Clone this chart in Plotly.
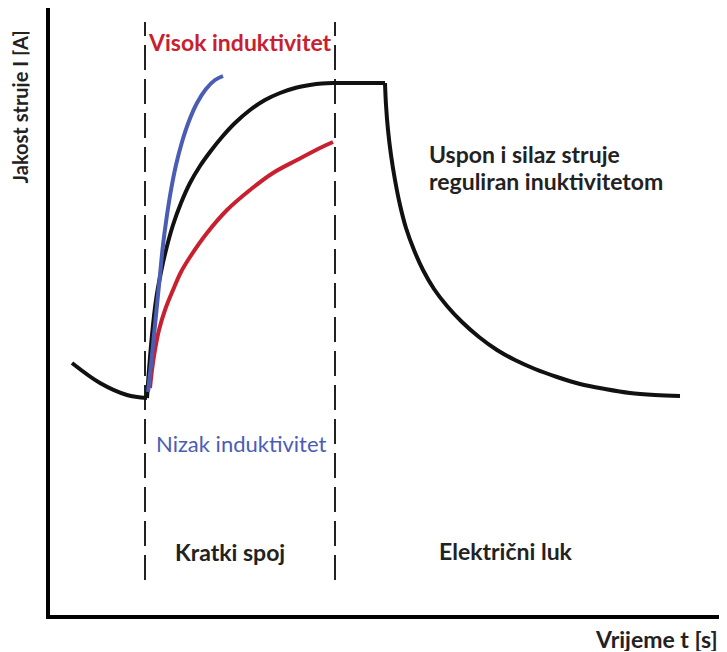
import plotly.graph_objects as go

# arbitrary units (t to the right, I upward)
t_before = [22, 50, 77, 97]
i_before = [252, 232, 220, 217]

t_rise = [97, 99, 102, 106, 111, 116, 123, 131, 140, 150, 160, 172, 185, 200, 215, 230, 245, 260, 272, 283]
i_rise = [217, 245, 280, 315, 343, 365, 390, 412, 432, 449, 463, 478, 492, 505, 515, 522, 527, 530, 531.5, 532]

t_flat = [283, 335]
i_flat = [532, 532]

t_fall = [335, 336, 338, 341, 345, 350, 356, 364, 373, 384, 397, 412, 429, 447, 465, 485, 507, 530, 555, 580, 605, 630]
i_fall = [532, 510, 485, 460, 435, 410, 387, 365, 345, 326, 309, 293, 278, 265, 255, 246, 238, 231, 226, 222, 220, 219]

t_low = [98, 101, 104, 107, 110, 113, 117, 121, 126, 132, 139, 147, 156, 165, 173]
i_low = [223, 250, 280, 310, 340, 370, 400, 425, 450, 473, 494, 512, 526, 535, 539]

t_high = [100, 102, 105, 109, 115, 123, 131, 140, 157, 177, 200, 223, 247, 270, 283]
i_high = [227, 245, 265, 285, 305, 325, 343, 358, 382, 405, 425, 442, 455, 467, 473]

t_bounds = [95, 285]
i_bound_span = [35, 593]

FONT = "Lato, 'Open Sans', sans-serif"
BLACK = "#111111"
TEXT = "#222222"
BLUE = "#4b5cb5"
RED = "#c8202f"

fig = go.Figure()

for tb in t_bounds:
    fig.add_trace(go.Scatter(
        x=[tb, tb], y=i_bound_span, mode="lines",
        line={"color": "#222222", "width": 2, "dash": "25px,9px"},
        hoverinfo="skip",
    ))

fig.add_trace(go.Scatter(x=t_before, y=i_before, mode="lines",
                         line={"color": BLACK, "width": 4, "shape": "spline"}))
fig.add_trace(go.Scatter(x=t_high, y=i_high, mode="lines",
                         line={"color": RED, "width": 4, "shape": "spline"}))
fig.add_trace(go.Scatter(x=t_rise, y=i_rise, mode="lines",
                         line={"color": BLACK, "width": 4, "shape": "spline"}))
fig.add_trace(go.Scatter(x=t_low, y=i_low, mode="lines",
                         line={"color": BLUE, "width": 4, "shape": "spline"}))
fig.add_trace(go.Scatter(x=t_flat, y=i_flat, mode="lines",
                         line={"color": BLACK, "width": 4}))
fig.add_trace(go.Scatter(x=t_fall, y=i_fall, mode="lines",
                         line={"color": BLACK, "width": 4, "shape": "spline"}))

labels = [
    (190, 573, "<b>Visok induktivitet</b>", RED, 23, "center"),
    (191, 172, "Nizak induktivitet", BLUE, 22, "center"),
    (377, 461, "<b>Uspon i silaz struje</b>", TEXT, 23, "left"),
    (377, 434, "<b>reguliran inuktivitetom</b>", TEXT, 23, "left"),
    (180, 63, "<b>Kratki spoj</b>", TEXT, 23, "center"),
    (456, 64, "<b>Električni luk</b>", TEXT, 23, "center"),
]
for x, y, txt, col, size, anchor in labels:
    fig.add_annotation(x=x, y=y, text=txt, showarrow=False,
                       xanchor=anchor, yanchor="middle",
                       font={"color": col, "size": size, "family": FONT})

fig.add_annotation(xref="paper", yref="paper", x=0.99, y=-0.039,
                   text="<b>Vrijeme t [s]</b>", showarrow=False,
                   xanchor="right", yanchor="middle", height=24,
                   font={"size": 23, "color": TEXT, "family": FONT})
fig.add_annotation(xref="paper", yref="paper", x=-0.045, y=0.837,
                   text="<b>Jakost struje I [A]</b>", showarrow=False,
                   textangle=-90, xanchor="center", yanchor="middle", height=20,
                   font={"size": 20, "color": TEXT, "family": FONT})

# the page body adds an 8px offset, so the figure is sized to fit the window
fig.update_layout(
    width=719, height=644,
    showlegend=False,
    plot_bgcolor="white", paper_bgcolor="white",
    margin={"l": 42, "r": 0, "t": 0, "b": 37},
    xaxis={"range": [0, 677], "showgrid": False, "zeroline": False,
           "showticklabels": False, "ticks": "", "showline": True,
           "linecolor": "black", "linewidth": 4, "fixedrange": True},
    yaxis={"range": [0, 607], "showgrid": False, "zeroline": False,
           "showticklabels": False, "ticks": "", "showline": True,
           "linecolor": "black", "linewidth": 4, "fixedrange": True},
)

fig.write_html("out.html")
